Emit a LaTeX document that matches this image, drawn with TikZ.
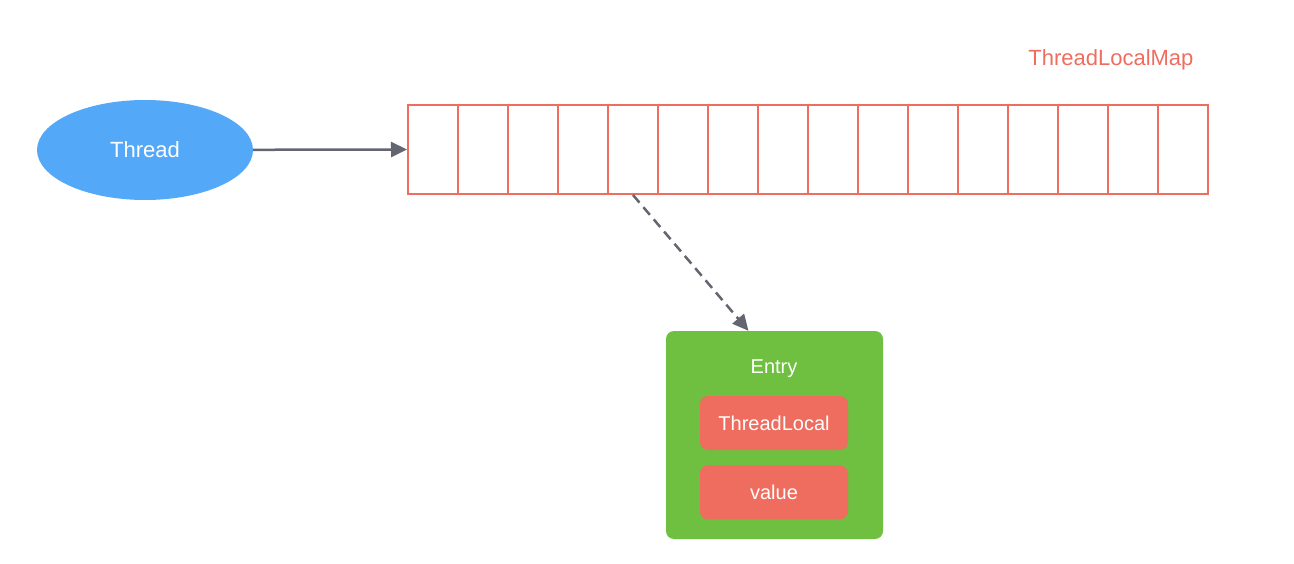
\documentclass[tikz,border=0pt]{standalone}
\usepackage{fontspec}
\setmainfont{Liberation Sans}
\usetikzlibrary{arrows.meta,positioning,shapes.geometric,calc}
\definecolor{thblue}{HTML}{54A8F8}
\definecolor{mapred}{HTML}{EE6D5E}
\definecolor{entgreen}{HTML}{6FBF40}
\definecolor{arrgray}{HTML}{636570}

\begin{document}
\begin{tikzpicture}[
  x=1pt, y=-1pt,
  font=\fontsize{22}{26}\selectfont,
  node distance=15pt and 20pt,
  thr/.style={ellipse, fill=thblue, text=white, minimum width=216pt,
              minimum height=100pt, inner sep=0pt},
  cell/.style={draw=mapred, line width=2pt, minimum width=50pt,
               minimum height=89pt, inner sep=0pt},
  entbox/.style={fill=entgreen, rounded corners=8pt, minimum width=217pt,
                 minimum height=208pt, inner sep=0pt},
  fld/.style={fill=mapred, text=white, rounded corners=8pt,
              font=\fontsize{20}{24}\selectfont,
              minimum width=148pt, minimum height=54pt, inner sep=0pt},
  arr/.style={-{Triangle[length=16pt,width=15pt]}, line width=2.5pt, draw=arrgray,
              arrgray},
  dsh/.style={arr, dash pattern=on 10pt off 6pt}
]
\useasboundingbox (0,0) rectangle (1294,564);
% ---------------- thread ----------------
\node[thr] (thread) at (145,150) {Thread};
% ---------------- map slots ----------------
\foreach \i in {1,...,16}
  \node[cell] (cell\i) at ({383+50*\i},149.5) {};
\node[text=mapred, anchor=east] (maptitle) at (1197,60) {ThreadLocalMap};
% ---------------- entry ----------------
\node[entbox] (entry) at (774.5,435) {};
\node[text=white, font=\fontsize{20}{24}\selectfont] (entrylbl) at (774,369) {Entry};
\node[fld] (tlocal) at (774,423) {ThreadLocal};
\node[fld, below=15pt of tlocal] (val) {value};
\coordinate (entryin) at ($(entry.north)+(-26,0)$);
% ---------------- edges ----------------
\draw[arr] (thread) -- (cell1.west);
\draw[dsh] (cell5.south) -- (entryin);
\end{tikzpicture}
\end{document}
